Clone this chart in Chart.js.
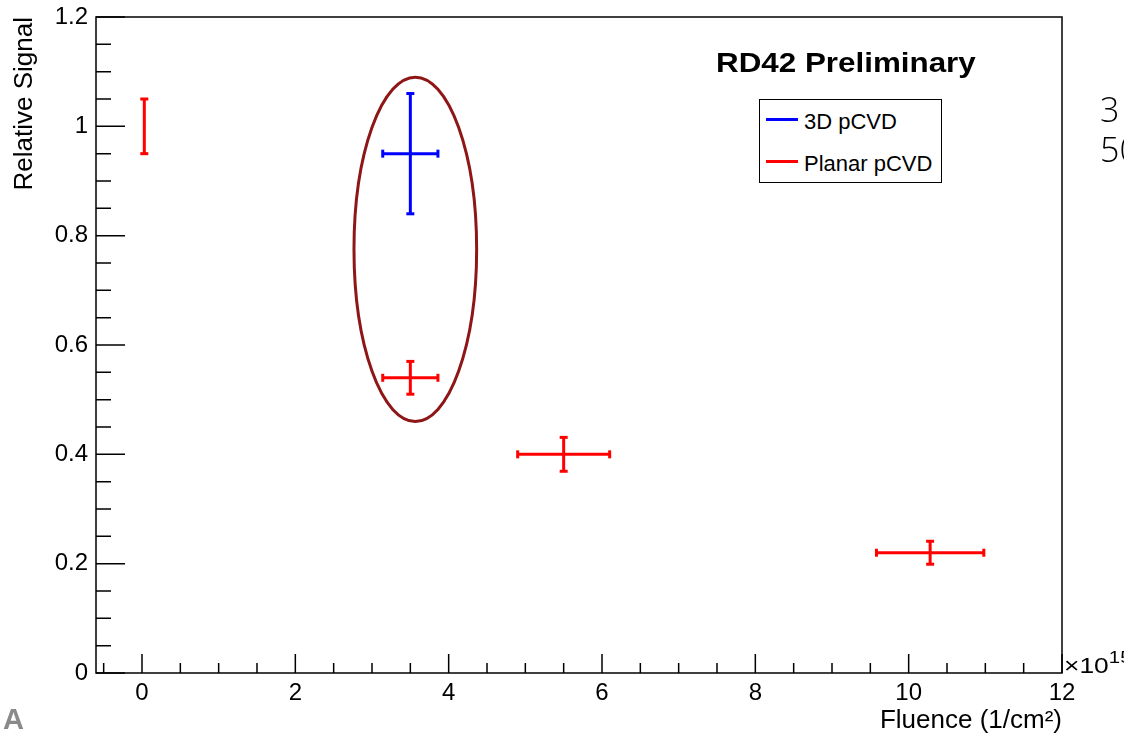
<!DOCTYPE html>
<html>
<head>
<meta charset="utf-8">
<script src="https://cdn.jsdelivr.net/npm/chart.js@4.4.1/dist/chart.umd.min.js"></script>
<style>
  html, body { margin: 0; padding: 0; background: #fff; overflow: hidden; }
  #wrap { position: relative; width: 1124px; height: 734px; overflow: hidden; }
  #c { position: absolute; left: 0; top: 0; }
  .t { position: absolute; white-space: nowrap; line-height: 1; font-family: "Liberation Sans", Arial, Helvetica, sans-serif; color: #000; }
  #legend { position: absolute; left: 759px; top: 99px; width: 183px; height: 84px; border: 1.5px solid #000; box-sizing: border-box; background: #fff; }
  .lg-line { position: absolute; left: 6px; width: 32px; height: 3px; }
</style>
</head>
<body>
<div id="wrap">
  <canvas id="c" width="1124" height="734"></canvas>
  <div class="t" style="left:716px;top:49px;font-size:28px;font-weight:bold;transform:scaleX(1.12);transform-origin:0 0;">RD42 Preliminary</div>
  <div id="legend">
    <div class="lg-line" style="top:18px;background:#0000ff;"></div>
    <div class="t" style="left:44px;top:11px;font-size:22px;">3D pCVD</div>
    <div class="lg-line" style="top:60px;background:#ff0000;"></div>
    <div class="t" style="left:44px;top:53px;font-size:22px;">Planar pCVD</div>
  </div>
  <div class="t" style="left:1100px;top:92px;font-size:34px;font-family:'Open Sans',sans-serif;font-weight:300;color:#000;">3</div>
  <div class="t" style="left:1100px;top:132px;font-size:34px;font-family:'Open Sans',sans-serif;font-weight:300;color:#000;">50</div>
  <div class="t" style="left:1064px;top:655px;font-size:22px;transform:scaleX(1.2);transform-origin:0 0;">×10<span style="font-size:17px;position:relative;top:-10px;">15</span></div>
  <div class="t" style="left:3px;top:705px;font-size:29px;font-weight:bold;color:#8a8a8a;">A</div>
</div>
<script>
// Relative signal versus fluence, one 3D and several planar pCVD diamond samples
const pcvd3dX    = [3.5];
const pcvd3dY    = [0.95];
const pcvd3dXErr = [0.36];
const pcvd3dYErr = [0.11];

const planarX    = [0.03, 3.5, 5.5, 10.28];
const planarY    = [1.0, 0.54, 0.40, 0.22];
const planarXErr = [0, 0.36, 0.6, 0.70];
const planarYErr = [0.05, 0.03, 0.031, 0.021];

const xTickValues = [0, 2, 4, 6, 8, 10, 12];
const xTickLabels = ['0', '2', '4', '6', '8', '10', '12'];
const yTickValues = [0, 0.2, 0.4, 0.6, 0.8, 1.0, 1.2];
const yTickLabels = ['0', '0.2', '0.4', '0.6', '0.8', '1', '1.2'];

// ellipse grouping the two samples at the same fluence (data units)
const groupCenter = [3.565, 0.775];
const groupRadii  = [0.80, 0.315];

const FONT = '"Liberation Sans", Arial, Helvetica, sans-serif';

// each error bar is a two-point line; the end caps are 'line' point markers
function errorBars(label, xs, ys, xe, ye, color) {
  const sets = [];
  xs.forEach((x, i) => {
    if (ye[i] > 0) {
      sets.push({
        label, data: [{ x, y: ys[i] - ye[i] }, { x, y: ys[i] + ye[i] }],
        showLine: true, borderColor: color, borderWidth: 3,
        pointStyle: 'line', pointRadius: 4, pointHoverRadius: 4,
        pointBorderWidth: 3, pointBorderColor: color, pointRotation: 0
      });
    }
    if (xe[i] > 0) {
      sets.push({
        label, data: [{ x: x - xe[i], y: ys[i] }, { x: x + xe[i], y: ys[i] }],
        showLine: true, borderColor: color, borderWidth: 3,
        pointStyle: 'line', pointRadius: 4, pointHoverRadius: 4,
        pointBorderWidth: 3, pointBorderColor: color, pointRotation: 90
      });
    }
  });
  return sets;
}

const centres = pcvd3dX.map((x, i) => ({ x, y: pcvd3dY[i] }))
  .concat(planarX.map((x, i) => ({ x, y: planarY[i] })));

const datasets = [
  ...errorBars('3D pCVD', pcvd3dX, pcvd3dY, pcvd3dXErr, pcvd3dYErr, '#0000ff'),
  ...errorBars('Planar pCVD', planarX, planarY, planarXErr, planarYErr, '#ff0000'),
  { label: 'centre', data: centres, showLine: false, pointRadius: 1, pointBorderWidth: 0, pointBackgroundColor: '#000' }
];

// ROOT-style frame with inward major and minor ticks
const frameTicks = {
  id: 'frameTicks',
  afterDatasetsDraw(chart) {
    const { ctx, chartArea: a, scales: { x, y } } = chart;
    ctx.save();
    ctx.strokeStyle = '#000';
    ctx.lineWidth = 1.5;
    ctx.strokeRect(a.left, a.top, a.right - a.left, a.bottom - a.top);
    ctx.beginPath();
    const xStep = xTickValues[1] - xTickValues[0];
    for (let k = -1; k <= (xTickValues.length - 1) * 4; k++) {
      const v = xTickValues[0] + k * xStep / 4;
      if (v < x.min || v > x.max) continue;
      const px = x.getPixelForValue(v);
      const len = (k % 4 === 0) ? 19 : 10;
      ctx.moveTo(px, a.bottom);
      ctx.lineTo(px, a.bottom - len);
    }
    const yStep = yTickValues[1] - yTickValues[0];
    for (let k = 0; k <= (yTickValues.length - 1) * 4; k++) {
      const v = yTickValues[0] + k * yStep / 4;
      const py = y.getPixelForValue(v);
      const len = (k % 4 === 0) ? 29 : 15;
      ctx.moveTo(a.left, py);
      ctx.lineTo(a.left + len, py);
    }
    ctx.stroke();
    ctx.restore();
  }
};

const groupEllipse = {
  id: 'groupEllipse',
  afterDatasetsDraw(chart) {
    const { ctx, scales: { x, y } } = chart;
    const cx = x.getPixelForValue(groupCenter[0]);
    const cy = y.getPixelForValue(groupCenter[1]);
    const rx = Math.abs(x.getPixelForValue(groupCenter[0] + groupRadii[0]) - cx);
    const ry = Math.abs(y.getPixelForValue(groupCenter[1] + groupRadii[1]) - cy);
    ctx.save();
    ctx.strokeStyle = '#8e1616';
    ctx.lineWidth = 3;
    ctx.beginPath();
    ctx.ellipse(cx, cy, rx, ry, 0, 0, Math.PI * 2);
    ctx.stroke();
    ctx.restore();
  }
};

new Chart(document.getElementById('c'), {
  type: 'scatter',
  data: { datasets },
  plugins: [frameTicks, groupEllipse],
  options: {
    responsive: false,
    animation: false,
    events: [],
    layout: { padding: { left: 0, right: 62, top: 17, bottom: 0 } },
    plugins: { legend: { display: false }, tooltip: { enabled: false } },
    scales: {
      x: {
        type: 'linear', min: -0.6, max: 12,
        afterBuildTicks: s => { s.ticks = xTickValues.map(v => ({ value: v })); },
        afterFit: s => { s.height = 61; },
        grid: { display: false, drawTicks: false },
        border: { display: false },
        ticks: {
          autoSkip: false, maxRotation: 0, padding: 6, color: '#000',
          font: { family: FONT, size: 24 },
          callback: (v, i) => xTickLabels[i]
        },
        title: {
          display: true, text: 'Fluence (1/cm²)', align: 'end', color: '#000',
          font: { family: FONT, size: 26, lineHeight: 1.0 }, padding: { top: 0, bottom: 0 }
        }
      },
      y: {
        type: 'linear', min: 0, max: 1.2,
        afterBuildTicks: s => { s.ticks = yTickValues.map(v => ({ value: v })); },
        afterFit: s => { s.width = 96; s.paddingTop = 0; s.paddingBottom = 0; },
        grid: { display: false, drawTicks: false },
        border: { display: false },
        ticks: {
          autoSkip: false, padding: 8, color: '#000',
          font: { family: FONT, size: 24, lineHeight: 1 },
          callback: (v, i) => yTickLabels[i]
        },
        title: {
          display: true, text: 'Relative Signal', align: 'end', color: '#000',
          font: { family: FONT, size: 26, lineHeight: 1.2 }, padding: { top: 9, bottom: 0 }
        }
      }
    }
  }
});
</script>
</body>
</html>
